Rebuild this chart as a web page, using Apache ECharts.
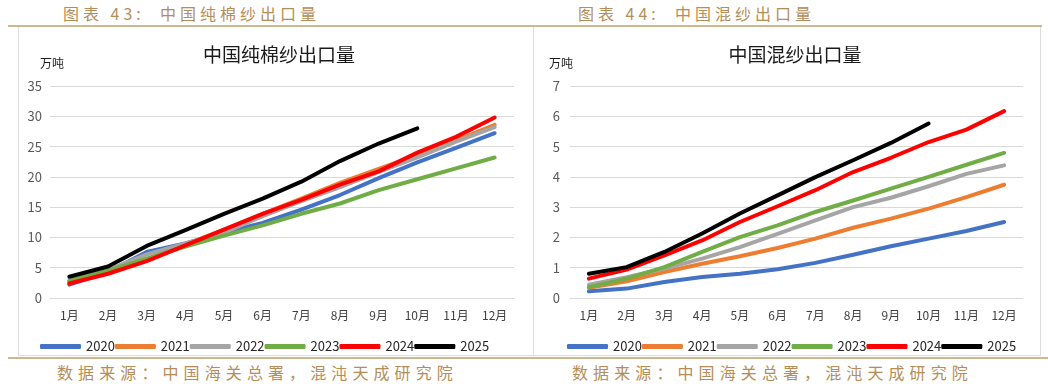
<!DOCTYPE html>
<html>
<head>
<meta charset="utf-8">
<script src="https://cdn.jsdelivr.net/npm/echarts@6/dist/echarts.min.js"></script>
<style>
  html, body { margin: 0; padding: 0; background: #ffffff; }
  #wrap { position: relative; width: 1048px; height: 384px; overflow: hidden; font-family: "Noto Sans CJK SC", sans-serif; }
  .gold { position: absolute; height: 2px; background: #cdb78f; }
  .head, .foot { position: absolute; color: #b48d58; font-size: 16px; white-space: nowrap; line-height: 1; }
  .head { letter-spacing: 4px; }
  .foot { letter-spacing: 5.1px; }
  .panel { position: absolute; border: 1px solid #dcdcdc; border-top: none; background: #ffffff; box-sizing: border-box; }
  #chart { position: absolute; left: 0; top: 0; width: 1048px; height: 384px; }
</style>
</head>
<body>
<div id="wrap">
  <div class="head" style="left:63px; top:5px;">图表 43:&nbsp;&nbsp;中国纯棉纱出口量</div>
  <div class="head" style="left:578px; top:5px;">图表 44:&nbsp;&nbsp;中国混纱出口量</div>
  <div class="gold" style="left:8px; top:25px; width:1034px;"></div>
  <div class="panel" style="left:18px; top:27px; width:516px; height:329px;"></div>
  <div class="panel" style="left:533px; top:27px; width:508px; height:329px;"></div>
  <div class="gold" style="left:8px; top:357px; width:1040px;"></div>
  <div class="foot" style="left:57px; top:364px;">数据来源：中国海关总署，混沌天成研究院</div>
  <div class="foot" style="left:572px; top:364px;">数据来源：中国海关总署，混沌天成研究院</div>
  <div id="chart"></div>
</div>
<script>
// ---- data ----
const months = ['1月','2月','3月','4月','5月','6月','7月','8月','9月','10月','11月','12月'];
const years = ['2020','2021','2022','2023','2024','2025'];
const leftTitle = '中国纯棉纱出口量';
const rightTitle = '中国混纱出口量';
const unitLabel = '万吨';

// 纯棉纱出口量 (万吨, 累计)
const cotton2020 = [2.2, 4.3, 7.6, 9.0, 10.8, 12.4, 14.6, 17.0, 19.8, 22.4, 24.8, 27.2];
const cotton2021 = [2.5, 4.4, 6.3, 8.8, 11.3, 13.9, 16.4, 19.0, 21.3, 23.6, 26.0, 28.6];
const cotton2022 = [2.8, 4.6, 7.2, 9.0, 10.8, 13.5, 16.0, 18.3, 20.8, 23.2, 25.8, 28.2];
const cotton2023 = [2.8, 4.5, 6.5, 8.5, 10.3, 12.0, 13.9, 15.6, 17.8, 19.6, 21.4, 23.2];
const cotton2024 = [2.4, 4.0, 6.1, 8.7, 11.3, 13.9, 16.2, 18.7, 20.9, 24.0, 26.6, 29.8];
const cotton2025 = [3.5, 5.2, 8.6, 11.2, 13.9, 16.4, 19.2, 22.6, 25.5, 28.0];

// 混纱出口量 (万吨, 累计)
const blend2020 = [0.22, 0.31, 0.53, 0.69, 0.80, 0.95, 1.16, 1.43, 1.71, 1.96, 2.21, 2.51];
const blend2021 = [0.34, 0.55, 0.86, 1.13, 1.38, 1.65, 1.96, 2.32, 2.62, 2.95, 3.33, 3.74];
const blend2022 = [0.44, 0.69, 0.97, 1.30, 1.68, 2.12, 2.56, 3.00, 3.31, 3.69, 4.10, 4.38];
const blend2023 = [0.36, 0.64, 1.02, 1.52, 2.01, 2.40, 2.84, 3.22, 3.61, 4.00, 4.40, 4.79];
const blend2024 = [0.64, 0.94, 1.41, 1.90, 2.51, 3.03, 3.56, 4.16, 4.63, 5.15, 5.56, 6.17];
const blend2025 = [0.80, 1.02, 1.52, 2.13, 2.79, 3.39, 3.99, 4.55, 5.12, 5.76];

const cottonSeries = [cotton2020, cotton2021, cotton2022, cotton2023, cotton2024, cotton2025];
const blendSeries = [blend2020, blend2021, blend2022, blend2023, blend2024, blend2025];
const colors = ['#4472c4', '#ed7d31', '#a5a5a5', '#70ad47', '#ff0000', '#000000'];

// ---- chart ----
const font = '"Noto Sans CJK SC", sans-serif';
const chart = echarts.init(document.getElementById('chart'), null, { renderer: 'canvas' });

function xAxis(gridIndex) {
  return {
    type: 'category', gridIndex, data: months, boundaryGap: true,
    axisLine: { show: true, lineStyle: { color: '#d9d9d9', width: 1 } },
    axisTick: { show: false },
    axisLabel: { color: '#404040', fontSize: 12, fontFamily: font, margin: 11, interval: 0 }
  };
}
function yAxis(gridIndex, max, interval, margin) {
  return {
    type: 'value', gridIndex, min: 0, max, interval,
    axisLine: { show: false }, axisTick: { show: false },
    splitLine: { lineStyle: { color: '#d9d9d9', width: 1 } },
    axisLabel: { color: '#595959', fontSize: 13, fontFamily: font, margin }
  };
}
function makeSeries(arrs, axisIndex) {
  return arrs.map((d, i) => ({
    name: years[i], type: 'line', data: d,
    xAxisIndex: axisIndex, yAxisIndex: axisIndex,
    symbol: 'none', smooth: false, color: colors[i],
    lineStyle: { width: 4, color: colors[i], cap: 'round', join: 'round' },
    emphasis: { disabled: true }, animation: false
  }));
}
function legend(left) {
  return {
    data: years, left, top: 335, orient: 'horizontal',
    icon: 'roundRect', itemWidth: 41, itemHeight: 5, itemGap: 0,
    textStyle: { color: '#262626', fontSize: 13, fontFamily: font },
    selectedMode: false
  };
}

chart.setOption({
  animation: false,
  backgroundColor: 'transparent',
  title: [
    { text: leftTitle, left: 274, top: 40, textAlign: 'center',
      textStyle: { fontSize: 19, fontWeight: 'normal', color: '#1a1a1a', fontFamily: font } },
    { text: rightTitle, left: 790, top: 40, textAlign: 'center',
      textStyle: { fontSize: 19, fontWeight: 'normal', color: '#1a1a1a', fontFamily: font } },
    { text: unitLabel, left: 35, top: 52, textStyle: { fontSize: 12, fontWeight: 'normal', color: '#1a1a1a', fontFamily: font } },
    { text: unitLabel, left: 544, top: 52, textStyle: { fontSize: 12, fontWeight: 'normal', color: '#1a1a1a', fontFamily: font } }
  ],
  grid: [
    { left: 50, top: 86, width: 464, height: 212 },
    { left: 570, top: 86, width: 453, height: 212 }
  ],
  xAxis: [xAxis(0), xAxis(1)],
  yAxis: [yAxis(0, 35, 5, 8), yAxis(1, 7, 1, 10)],
  legend: [legend(35), legend(562)],
  series: makeSeries(cottonSeries, 0).concat(makeSeries(blendSeries, 1))
});
</script>
</body>
</html>
